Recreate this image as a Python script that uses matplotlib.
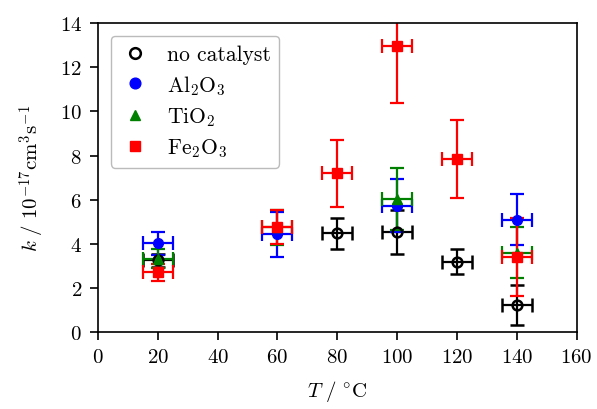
import matplotlib
matplotlib.use("Agg")
import matplotlib.pyplot as plt

plt.rcParams['font.family'] = ['cmr10', 'DejaVu Serif']
plt.rcParams['mathtext.fontset'] = 'cm'
plt.rcParams['axes.formatter.use_mathtext'] = True

T_none = [20, 80, 100, 120, 140]
k_none = [3.25, 4.47, 4.55, 3.18, 1.22]
e_none = [0.3, 0.7, 1.0, 0.57, 0.9]

T_al = [20, 60, 100, 140]
k_al = [4.02, 4.44, 5.72, 5.09]
e_al = [0.52, 1.02, 1.2, 1.17]

T_ti = [20, 60, 100, 140]
k_ti = [3.31, 4.75, 6.03, 3.6]
e_ti = [0.43, 0.8, 1.42, 1.15]

T_fe = [20, 60, 80, 100, 120, 140]
k_fe = [2.7, 4.77, 7.2, 12.97, 7.85, 3.41]
e_fe = [0.38, 0.78, 1.52, 2.58, 1.77, 1.76]

T_err = 5

fig = plt.figure(figsize=(5.97, 4.10), dpi=100)
ax = fig.add_axes([0.164, 0.188, 0.802, 0.753])

common = dict(xerr=T_err, capsize=5, elinewidth=1.6, capthick=1.6, linestyle='none')
ax.errorbar(T_none, k_none, yerr=e_none, marker='o', ms=7, mfc='none', mec='black',
            mew=1.8, color='black', label='no catalyst', **common)
ax.errorbar(T_al, k_al, yerr=e_al, marker='o', ms=7, color='blue',
            label=r'Al$_2$O$_3$', **common)
ax.errorbar(T_ti, k_ti, yerr=e_ti, marker='^', ms=7, color='green',
            label=r'TiO$_2$', **common)
ax.errorbar(T_fe, k_fe, yerr=e_fe, marker='s', ms=7, color='red',
            label=r'Fe$_2$O$_3$', **common)

ax.set_xlim(0, 160)
ax.set_ylim(0, 14)
ax.set_xticks(range(0, 161, 20))
ax.set_yticks(range(0, 15, 2))
ax.tick_params(labelsize=15, width=1.2, length=5.5, pad=6)
for s in ax.spines.values():
    s.set_linewidth(1.2)
ax.set_xlabel(r'$T\ /\ ^{\circ}\mathrm{C}$', fontsize=15, labelpad=9)
ax.set_ylabel(r'$k\ /\ 10^{-17}\mathrm{cm}^3\mathrm{s}^{-1}$', fontsize=15, labelpad=9)

handles, labels = ax.get_legend_handles_labels()
handles = [h[0] for h in handles]
ax.legend(handles, labels, loc='upper left', fontsize=15.5, frameon=True,
          edgecolor='#aaaaaa', handlelength=1.4, borderpad=0.4, labelspacing=0.4,
          markerscale=1.1, borderaxespad=0.6)

fig.savefig('out.png', dpi=100)
